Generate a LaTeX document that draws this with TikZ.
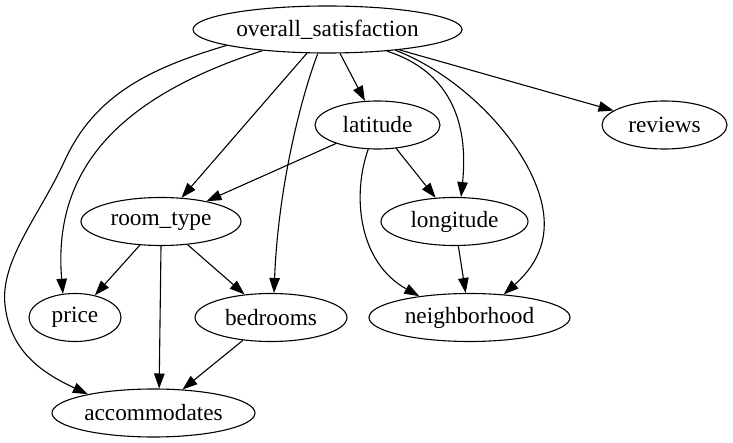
\documentclass[tikz,border=0pt]{standalone}
\usepackage{fontspec}
\setmainfont{Liberation Serif}
\usetikzlibrary{arrows.meta,shapes.geometric}
\begin{document}
\begin{tikzpicture}[x=1pt,y=-1pt,
  nd/.style={ellipse,draw,line width=1.1pt,inner sep=0pt,font=\fontsize{23.3}{26}\selectfont},
  ed/.style={line width=1.1pt,-{Triangle[length=15pt,width=10.5pt]}}]
\useasboundingbox (0,0) rectangle (733,443);
\node[nd,minimum width=269pt,minimum height=47pt] (os) at (327.5,29.5) {overall\_satisfaction};
\node[nd,minimum width=125pt,minimum height=48pt] (lat) at (377.5,125) {latitude};
\node[nd,minimum width=125pt,minimum height=48pt] (rev) at (664.5,125) {reviews};
\node[nd,minimum width=160pt,minimum height=48pt] (rt) at (161,221.5) {room\_type};
\node[nd,minimum width=147pt,minimum height=48pt] (lon) at (454.5,221.5) {longitude};
\node[nd,minimum width=92pt,minimum height=48pt] (pr) at (75,317.5) {price};
\node[nd,minimum width=152pt,minimum height=48pt] (bed) at (271,317.5) {bedrooms};
\node[nd,minimum width=201pt,minimum height=48pt] (nb) at (469.5,317.5) {neighborhood};
\node[nd,minimum width=203pt,minimum height=48pt] (acc) at (153.5,413) {accommodates};
% straight edges
\draw[ed] (os) -- (lat);
\draw[ed] (os) -- (rev);
\draw[ed] (os) -- (rt);
\draw[ed] (lat) -- (rt);
\draw[ed] (lat) -- (lon);
\draw[ed] (lon) -- (nb);
\draw[ed] (rt) -- (pr);
\draw[ed] (rt) -- (bed);
\draw[ed] (rt.south) -- (acc.77);
\draw[ed] (bed) -- (acc);
% curved edges
\draw[ed] (os.189) .. controls (150,68) and (95,95) .. (65,160)
  .. controls (40,215) and (0,260) .. (5,305)
  .. controls (10,350) and (40,372) .. (acc.164);
\draw[ed] (os.198) .. controls (125,95) and (52,165) .. (pr.117);
\draw[ed] (os.248) .. controls (300,100) and (278,190) .. (bed.83);
\draw[ed] (os.340) .. controls (440,68) and (470,110) .. (lon.75);
\draw[ed] (os.343) .. controls (460,75) and (525,140) .. (541,200)
  .. controls (550,235) and (540,262) .. (nb.34);
\draw[ed] (lat.249) .. controls (352,195) and (358,262) .. (nb.157);
\end{tikzpicture}
\end{document}
